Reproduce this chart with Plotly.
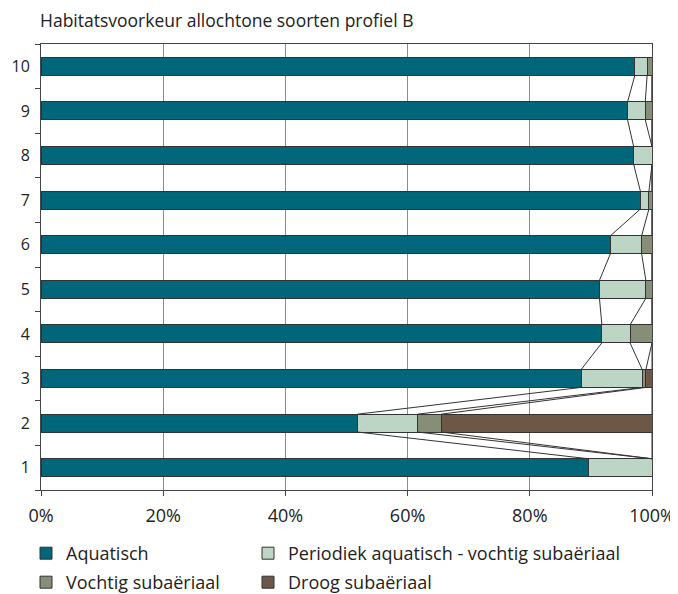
"""
Habitatsvoorkeur allochtone soorten profiel B - 100% stacked bars with series lines
"""
import plotly.graph_objects as go

# profile positions (bottom to top)
categories = ['1', '2', '3', '4', '5', '6', '7', '8', '9', '10']

# percentages per habitat class
aquatisch = [89.6, 51.8, 88.4, 91.8, 91.4, 93.2, 98.1, 97.0, 96.0, 97.2]
periodiek = [10.4, 9.8, 10.0, 4.6, 7.6, 5.1, 1.4, 3.0, 2.9, 2.0]
vochtig = [0.0, 3.9, 0.6, 3.6, 1.0, 1.7, 0.5, 0.0, 1.1, 0.8]
droog = [0.0, 34.5, 1.0, 0.0, 0.0, 0.0, 0.0, 0.0, 0.0, 0.0]

series_names = ['Aquatisch', 'Periodiek aquatisch - vochtig subaëriaal',
                'Vochtig subaëriaal', 'Droog subaëriaal']
series_values = [aquatisch, periodiek, vochtig, droog]
colors = ['#00667A', '#BCD5C4', '#878E77', '#6D5848']

FONT = 'Open Sans'
BAR_WIDTH = 0.4
OUTLINE = '#333333'
# the page body keeps its default 8px margin, so the figure is that much smaller
W, H = 670, 586

# one small legend per entry: 2 x 2 grid below the plot (figure pixels)
legend_ids = ['legend', 'legend2', 'legend3', 'legend4']
legend_pos = [(18, 527), (240, 527), (18, 556), (240, 556)]

fig = go.Figure()

for name, vals, col, lg in zip(series_names, series_values, colors, legend_ids):
    fig.add_trace(go.Bar(
        x=vals,
        y=categories,
        orientation='h',
        name=name,
        marker=dict(color=col, line=dict(color=OUTLINE, width=1)),
        width=BAR_WIDTH,
        legend=lg
    ))

# series lines: connect the cumulative boundaries of neighbouring bars
cum = [0.0] * len(categories)
for vals in series_values:
    cum = [c + v for c, v in zip(cum, vals)]
    xs, ys = [], []
    for k in range(len(categories) - 1):
        xs += [cum[k], cum[k + 1], None]
        ys += [k + BAR_WIDTH / 2, k + 1 - BAR_WIDTH / 2, None]
    fig.add_trace(go.Scatter(
        x=xs, y=ys,
        mode='lines',
        line=dict(color=OUTLINE, width=1),
        showlegend=False,
        hoverinfo='skip',
        yaxis='y2'
    ))

legends = {}
for lg, (lx, ly) in zip(legend_ids, legend_pos):
    legends[lg] = dict(
        orientation='h',
        xref='container', x=lx / W, xanchor='left',
        yref='container', y=1 - ly / H, yanchor='top',
        font=dict(size=18),
        bgcolor='rgba(0,0,0,0)'
    )

fig.update_layout(
    barmode='stack',
    width=W,
    height=H,
    margin=dict(l=33, r=26, t=36, b=104),
    paper_bgcolor='white',
    plot_bgcolor='white',
    font=dict(family=FONT, size=18, color='#222222'),
    title=dict(
        text='Habitatsvoorkeur allochtone soorten profiel B',
        x=32 / W, xref='container', xanchor='left',
        y=1 - 13 / H, yref='container', yanchor='middle',
        font=dict(size=17.5, color='#222222')
    ),
    xaxis=dict(
        range=[0, 100],
        tickvals=[0, 20, 40, 60, 80, 100],
        ticktext=['0%', '20%', '40%', '60%', '80%', '100%'],
        showgrid=True, gridcolor='#8C8C8C', gridwidth=1,
        showline=True, linecolor='#444444', linewidth=1, mirror=True,
        ticks='outside', ticklen=5, tickcolor='#444444',
        ticklabelstandoff=4,
        zeroline=False,
        automargin=False
    ),
    yaxis=dict(
        type='category',
        categoryorder='array', categoryarray=categories,
        range=[-0.5, 9.5],
        tickson='boundaries',
        ticks='outside', ticklen=5, tickcolor='#444444',
        tickfont=dict(size=16),
        showline=True, linecolor='#444444', linewidth=1, mirror=True,
        showgrid=False,
        ticklabelstandoff=7,
        automargin=False
    ),
    yaxis2=dict(
        overlaying='y',
        range=[-0.5, 9.5],
        visible=False
    ),
    bargap=0.6,
    **legends
)

fig.write_html("out.html")
